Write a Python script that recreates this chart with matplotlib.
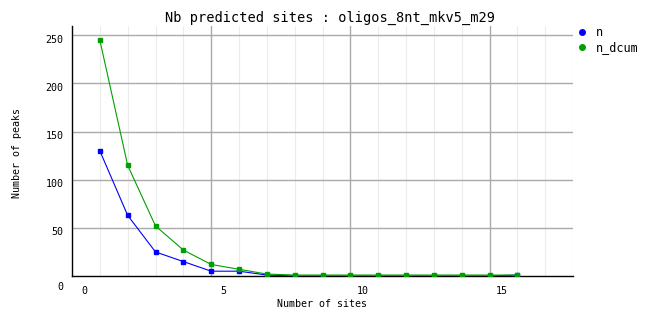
import matplotlib
matplotlib.use("Agg")
import matplotlib.pyplot as plt
import matplotlib.transforms as mtransforms
from matplotlib.lines import Line2D
import numpy as np

# data
sites = [1, 2, 3, 4, 5, 6, 7, 8, 9, 10, 11, 12, 13, 14, 15, 16]
n = [130, 63, 25, 15, 5, 5, 1, 0, 0, 0, 0, 0, 0, 0, 0, 1]
n_dcum = [245, 115, 52, 27, 12, 7, 2, 1, 1, 1, 1, 1, 1, 1, 1, 1]
xtick_vals = [0, 5, 10, 15]
ytick_vals = [0, 50, 100, 150, 200, 250]
title = "Nb predicted sites : oligos_8nt_mkv5_m29"
xlabel = "Number of sites"
ylabel = "Number of peaks"

blue = "#0000ff"
green = "#00a000"

plt.rcParams['font.family'] = ['DejaVu Sans Mono']
fig = plt.figure(figsize=(6.62, 3.28), dpi=100)
ax = fig.add_axes([72/662, 1-276/328, (573-72)/662, (276-26)/328])

ax.set_xlim(0, 18)
ax.set_ylim(0, 259.7)

# grids
for xv in range(0, 19):
    if xv % 5 == 0:
        continue
    ax.axvline(xv, color="#ececec", lw=0.8, zorder=0)
for xv in [5, 10, 15]:
    ax.axvline(xv, color="#aaaaaa", lw=1.0, zorder=0.5)
for yv in ytick_vals[1:]:
    ax.axhline(yv, color="#aaaaaa", lw=1.0, zorder=0.5)

ax.plot(sites, n, color=blue, lw=0.8, marker='s', ms=2.6, mec=blue, mfc=blue, zorder=3)
ax.plot(sites, n_dcum, color=green, lw=0.8, marker='s', ms=2.6, mec=green, mfc=green, zorder=3)

ax.set_xticks(xtick_vals)
ax.set_xticklabels([str(v) for v in xtick_vals])
ax.set_yticks(ytick_vals)
ax.set_yticklabels([str(v) for v in ytick_vals])
ax.tick_params(axis='both', length=0, labelsize=7.2)
ax.tick_params(axis='x', pad=7)
ax.tick_params(axis='y', pad=6)

dx = mtransforms.ScaledTranslation(12/100, 0, fig.dpi_scale_trans)
for lab in ax.get_xticklabels():
    lab.set_transform(lab.get_transform() + dx)
dy = mtransforms.ScaledTranslation(0, -3.5/100, fig.dpi_scale_trans)
dy0 = mtransforms.ScaledTranslation(0, -10/100, fig.dpi_scale_trans)
for i, lab in enumerate(ax.get_yticklabels()):
    lab.set_transform(lab.get_transform() + (dy0 if i == 0 else dy))

for s in ['top', 'right']:
    ax.spines[s].set_visible(False)
for s in ['left', 'bottom']:
    ax.spines[s].set_color('black')
    ax.spines[s].set_linewidth(1.0)

fig.text(330/662, 1-18/328, title, ha='center', va='center', fontsize=9.8)
fig.text(322/662, 1-304/328, xlabel, ha='center', va='center', fontsize=7.2)
fig.text(17/662, 1-153/328, ylabel, ha='center', va='center', rotation=90, fontsize=7.2)

handles = [Line2D([], [], ls='none', marker='o', ms=4, color=blue),
           Line2D([], [], ls='none', marker='o', ms=4, color=green)]
fig.legend(handles, ['n', 'n_dcum'], loc='upper left',
           bbox_to_anchor=(578/662, 1-26/328), frameon=False,
           handlelength=0.6, handletextpad=0.9, labelspacing=0.2,
           fontsize=8.5, borderaxespad=0, borderpad=0)

fig.savefig("out.png", dpi=100)
